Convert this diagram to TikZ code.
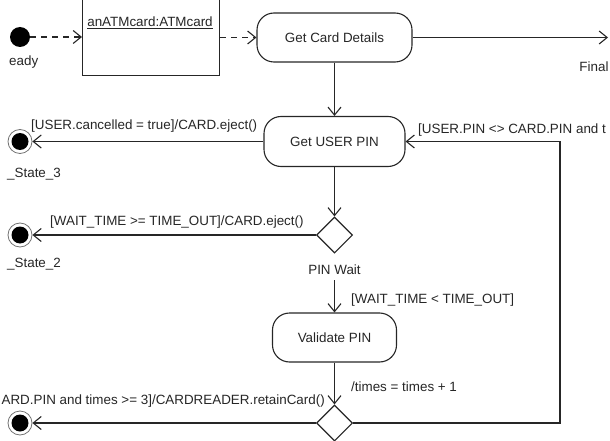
\documentclass[tikz,border=0pt]{standalone}
\usepackage{fontspec}
\setmainfont{Liberation Sans}
\usetikzlibrary{arrows.meta,shapes.geometric}
\begin{document}
\begin{tikzpicture}[x=1pt,y=-1pt,
  every node/.style={font=\fontsize{13.4}{16}\selectfont, text=black!85},
  line/.style={draw=black!85, line width=1.1pt},
  arr/.style={line, -{Straight Barb[length=8pt,width=13pt,line width=1.1pt]}},
  darr/.style={arr, dash pattern=on 6pt off 5pt},
  act/.style={line, rounded corners=17pt, inner sep=0pt},
  choice/.style={line, diamond, aspect=1, minimum width=36pt, minimum height=36pt, inner sep=0pt},
  initst/.style={circle, fill=black, minimum size=20pt, inner sep=0pt},
  finst/.style={circle, draw=black!55, line width=0.8pt, minimum size=24pt, inner sep=0pt,
    path picture={\fill[black] (path picture bounding box.center) circle (8.5pt);}},
  lbl/.style={inner sep=0pt},
]
\useasboundingbox (0,0) rectangle (610,441);
\clip (0,0) rectangle (610,441);

% states
\node[initst] (init) at (20,37) {};
\node[lbl, anchor=base west] (initl) at (9,66) {eady};

\node[line, minimum width=137pt, minimum height=86pt, inner sep=0pt, anchor=south west] (card) at (82,76) {};
\node[lbl, anchor=base] (cardt) at (150,27) {\underline{anATMcard:ATMcard}};

\node[act, minimum width=155pt, minimum height=49pt] (gcd) at (334.5,37.5) {Get Card Details};
\coordinate (fin) at (608,37.5);
\node[lbl, anchor=base] (finl) at (594,72) {Final};

\node[act, minimum width=141pt, minimum height=50pt] (gup) at (334.5,141.5) {Get USER PIN};
\node[finst] (f3) at (20,141.5) {};
\node[lbl, anchor=base west] (f3l) at (7,177) {\_State\_3};

\node[choice] (d1) at (334.5,235) {};
\node[finst] (f2) at (20,235) {};
\node[lbl, anchor=base west] (f2l) at (7,267) {\_State\_2};
\node[lbl, anchor=base] (pinwait) at (334.5,274) {PIN Wait};
\coordinate (pwa) at (334.5,280);

\node[act, minimum width=124pt, minimum height=49pt] (vp) at (334.5,337.5) {Validate PIN};

\node[choice] (d2) at (334.5,423) {};
\node[finst] (f1) at (20,423) {};

\coordinate (lp1) at (560,423);
\coordinate (lp2) at (560,141.5);

% connectors
\draw[darr] (init.east) -- (init.east -| card.west);
\draw[darr] (card.east |- gcd) -- (gcd.west);
\draw[arr] (gcd.east) -- (fin);
\draw[arr] (gcd.south) -- (gup.north);
\draw[arr] (gup.west) -- (f3.east);
\draw[arr] (gup.south) -- (d1.north);
\draw[arr] (d1.west) -- (f2.east);
\draw[arr] (pwa) -- (vp.north);
\draw[arr] (vp.south) -- (d2.north);
\draw[arr] (d2.west) -- (f1.east);
\draw[arr] (d2.east) -- (lp1) -- (lp2) -- (gup.east);

% transition labels
\node[lbl, anchor=base west] (t1) at (31,130) {[USER.cancelled = true]/CARD.eject()};
\node[lbl, anchor=base west] (t2) at (50,225) {[WAIT\_TIME >= TIME\_OUT]/CARD.eject()};
\node[lbl, anchor=base west] (t3) at (351,303) {[WAIT\_TIME < TIME\_OUT]};
\node[lbl, anchor=base west] (t4) at (351,391) {/times = times + 1};
\node[lbl, anchor=base east] (t5) at (325,404) {ARD.PIN and times >= 3]/CARDREADER.retainCard()};
\node[lbl, anchor=base west] (t6) at (418,134) {[USER.PIN <> CARD.PIN and t};
\end{tikzpicture}
\end{document}
